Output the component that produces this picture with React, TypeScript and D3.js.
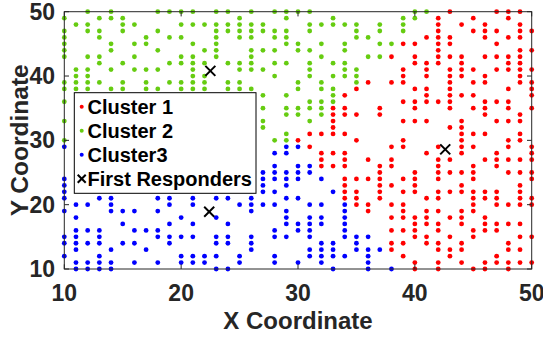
import React from "react";
import * as d3 from "d3";

// Each entry: [y, list of x values] on the integer grid
const cluster1Rows: [number, number[]][] = [
  [50, [43, 47, 48, 49]],
  [49, [42, 45, 48]],
  [48, [42, 44, 46, 49]],
  [47, [42, 45, 46, 47, 49, 50]],
  [46, [41, 42, 43, 46, 48, 49]],
  [45, [39, 40, 42, 43, 47]],
  [44, [42, 49, 50]],
  [43, [38, 40, 42, 43, 44, 46, 47, 48, 49]],
  [42, [40, 41, 42, 44, 48, 49]],
  [41, [39, 41, 43, 44, 45, 47, 48, 49, 50]],
  [40, [39, 41, 43, 44, 46, 49]],
  [39, [36, 38, 39, 43, 45, 46, 49, 50]],
  [38, [35, 40, 41, 43, 48, 50]],
  [37, [34, 41, 43, 44, 45, 50]],
  [36, [39, 40, 41, 42, 43, 46, 47, 48]],
  [35, [33, 34, 37, 40, 43, 45, 46, 48, 50]],
  [34, [33, 34, 35, 37, 46, 49]],
  [33, [33, 39, 40, 41, 44, 47, 48, 49]],
  [32, [33, 43, 44]],
  [31, [31, 32, 33, 34, 44, 45, 46, 49]],
  [30, [30, 35, 39, 44, 48, 49]],
  [29, [31, 38, 39, 42, 44, 45, 48, 50]],
  [28, [32, 33, 34, 41, 44, 47, 50]],
  [27, [32, 34, 36, 38, 42, 43, 46, 47, 48, 49, 50]],
  [26, [32, 33, 34, 37, 38, 42, 45, 47]],
  [25, [37, 40, 42, 43, 44, 45, 48, 49, 50]],
  [24, [34, 35, 36, 37, 39, 40, 42, 45, 50]],
  [23, [34, 37, 38, 40, 44, 49]],
  [22, [34, 35, 37, 39, 40, 42, 43, 44, 45, 46, 47, 49]],
  [21, [34, 35, 37, 41, 42, 45, 46, 47, 49, 50]],
  [20, [35, 36, 38, 39, 45, 47, 48, 49, 50]],
  [19, [36, 39, 41, 42, 44, 45]],
  [18, [38, 39, 40, 41, 43, 44, 46]],
  [17, [40, 41, 42, 44, 46, 47, 48, 49]],
  [16, [38, 39, 40, 42, 45, 46, 47]],
  [15, [40, 41, 43, 45, 49, 50]],
  [14, [38, 39, 41, 42, 44, 48]],
  [13, [38, 42, 43, 44, 48, 49]],
  [12, [39, 43, 47]],
  [11, [40, 42, 44, 46, 47, 48, 49, 50]],
  [10, [40, 42, 45, 46, 48]],
];

const cluster2Rows: [number, number[]][] = [
  [50, [12, 14, 18, 19, 20, 21, 23, 24, 26, 28, 29, 30, 31, 40, 41]],
  [49, [10, 13, 14, 15, 25, 29, 33, 39, 40]],
  [48, [11, 12, 15, 16, 20, 21, 22, 23, 24, 25, 26, 27, 31, 32, 33, 34, 35, 37, 39]],
  [47, [10, 12, 13, 15, 18, 23, 24, 25, 26, 27, 28, 29, 31, 35, 37, 39]],
  [46, [10, 13, 17, 19, 20, 23, 25, 26, 28, 29, 35, 36]],
  [45, [10, 14, 16, 17, 21, 23, 29, 30, 32, 34, 37, 38]],
  [44, [10, 14, 18, 22, 23, 26, 27, 28, 30, 31, 34]],
  [43, [10, 12, 13, 16, 20, 21, 23, 26, 32, 36, 37]],
  [42, [13, 15, 19, 20, 21, 22, 24, 25, 26, 28, 29, 31, 33, 34]],
  [41, [11, 12, 14, 16, 17, 18, 21, 25, 26, 27, 31, 34, 35]],
  [40, [11, 12, 21, 22, 28, 31, 33, 34, 35]],
  [39, [10, 11, 12, 13, 15, 17, 19, 20, 21, 22, 24, 25, 30, 32, 35]],
  [38, [10, 11, 12, 14, 15, 17, 18, 20, 21, 22, 24, 25, 26, 30, 32, 33]],
  [37, [27, 29, 33]],
  [36, [10, 31, 32, 33]],
  [35, [27, 29, 30, 31, 32]],
  [34, [29, 30, 32]],
  [33, [10, 27, 31]],
  [32, [27]],
  [31, [29]],
  [30, [10, 28, 29]],
];

const cluster3Rows: [number, number[]][] = [
  [29, [10, 29, 30]],
  [28, [28, 29]],
  [26, [28, 30, 31]],
  [25, [27, 28, 29, 30, 31]],
  [24, [10, 27, 28, 29, 30, 32]],
  [23, [10, 27, 29]],
  [22, [10, 27, 28, 33]],
  [21, [10, 13, 14, 18, 19, 21, 23, 24, 26, 29, 30]],
  [20, [11, 12, 14, 19, 21, 25, 26, 27, 28, 31, 32, 34]],
  [19, [10, 14, 15, 16, 18, 26, 29, 34]],
  [18, [11, 20, 23, 29, 31, 32, 34]],
  [17, [15, 19, 21, 24, 29, 30, 31, 32, 34]],
  [16, [11, 12, 13, 16, 17, 18, 28, 30, 31, 34]],
  [15, [10, 11, 13, 18, 19, 20, 21, 23, 24, 26, 28, 29, 31, 34, 35, 36]],
  [14, [10, 11, 12, 13, 15, 16, 19, 23, 24, 26, 32, 33, 35]],
  [13, [11, 14, 17, 26, 31, 32, 33, 35, 36, 37]],
  [12, [10, 13, 20, 21, 22, 23, 25, 28, 31, 32, 33, 34, 36]],
  [11, [11, 12, 13, 14, 16, 18, 20, 21, 22, 25, 28, 30, 32, 36]],
  [10, [11, 12, 13, 14, 23, 24, 33, 36, 38]],
];

const responderX = [22.5, 42.6, 22.4];
const responderY = [40.8, 28.6, 18.9];

const xTicks = [10, 20, 30, 40, 50];
const yTicks = [10, 20, 30, 40, 50];
const legendLabels = ["Cluster 1", "Cluster 2", "Cluster3", "First Responders"];
const clusterColors = ["#ff0000", "#66cc11", "#0000ff"];

const FONT = "'Liberation Sans', Arial, Helvetica, sans-serif";

function flatten(rows: [number, number[]][]) {
  const pts: { x: number; y: number }[] = [];
  rows.forEach(([y, xs]) => xs.forEach((x) => pts.push({ x, y })));
  return pts;
}

export default function App() {
  const W = 543;
  const H = 337;
  const left = 64.3;
  const right = 531.7;
  const top = 11.7;
  const bottom = 269;
  const x = d3.scaleLinear().domain([10, 50]).range([left, right]);
  const y = d3.scaleLinear().domain([10, 50]).range([bottom, top]);
  const clusters = [cluster1Rows, cluster2Rows, cluster3Rows].map(flatten);
  const axisColor = "#262626";
  const tickLen = 4.7;
  const responders = responderX.map((rx, i) => ({ x: rx, y: responderY[i] }));

  const cross = (cx: number, cy: number, s: number, key: string) => (
    <g key={key} stroke="#000" strokeWidth={2}>
      <line x1={cx - s} y1={cy - s} x2={cx + s} y2={cy + s} />
      <line x1={cx - s} y1={cy + s} x2={cx + s} y2={cy - s} />
    </g>
  );

  const lg = { x: 74.3, y: 92.7, w: 181.7, h: 100.6 };
  const lgBaselines = [114.3, 138.3, 162.3, 186.3];

  return (
    <svg
      width={W}
      height={H}
      style={{ position: "absolute", left: 0, top: 0, background: "#fff" }}
      fontFamily={FONT}
    >
      <rect x={0} y={0} width={W} height={H} fill="#fff" />
      {/* points */}
      {clusters.map((pts, ci) => (
        <g key={ci} fill={clusterColors[ci]}>
          {pts.map((p, i) => (
            <circle key={i} cx={x(p.x)} cy={y(p.y)} r={2.4} />
          ))}
        </g>
      ))}
      {responders.map((r, i) => cross(x(r.x), y(r.y), 5, "fr" + i))}

      {/* axes box */}
      <rect
        x={left}
        y={top}
        width={right - left}
        height={bottom - top}
        fill="none"
        stroke={axisColor}
        strokeWidth={1}
      />
      {xTicks.map((t) => (
        <g key={"xt" + t} stroke={axisColor} strokeWidth={1}>
          <line x1={x(t)} x2={x(t)} y1={bottom} y2={bottom - tickLen} />
          <line x1={x(t)} x2={x(t)} y1={top} y2={top + tickLen} />
        </g>
      ))}
      {yTicks.map((t) => (
        <g key={"yt" + t} stroke={axisColor} strokeWidth={1}>
          <line x1={left} x2={left + tickLen} y1={y(t)} y2={y(t)} />
          <line x1={right} x2={right - tickLen} y1={y(t)} y2={y(t)} />
        </g>
      ))}
      {xTicks.map((t) => (
        <text
          key={"xl" + t}
          x={x(t)}
          y={300.5}
          textAnchor="middle"
          fontSize={23}
          fontWeight="bold"
          fill={axisColor}
        >
          {t}
        </text>
      ))}
      {yTicks.map((t) => (
        <text
          key={"yl" + t}
          x={55}
          y={y(t) + 8}
          textAnchor="end"
          fontSize={23}
          fontWeight="bold"
          fill={axisColor}
        >
          {t}
        </text>
      ))}
      <text
        x={(left + right) / 2}
        y={329}
        textAnchor="middle"
        fontSize={24}
        fontWeight="bold"
        fill={axisColor}
      >
        X Coordinate
      </text>
      <text
        transform={`translate(27.5, ${(top + bottom) / 2}) rotate(-90)`}
        textAnchor="middle"
        fontSize={24.5}
        fontWeight="bold"
        fill={axisColor}
      >
        Y Coordinate
      </text>

      {/* legend */}
      <rect x={lg.x} y={lg.y} width={lg.w} height={lg.h} fill="#fff" stroke="#000" strokeWidth={1} />
      {legendLabels.map((lab, i) => (
        <g key={"lg" + i}>
          {i < 3 ? (
            <circle cx={81.7} cy={lgBaselines[i] - 7.5} r={2} fill={clusterColors[i]} />
          ) : (
            cross(81.7, lgBaselines[i] - 7.5, 4, "lgx")
          )}
          <text x={87.5} y={lgBaselines[i]} fontSize={20} fontWeight="bold" fill="#000">
            {lab}
          </text>
        </g>
      ))}
    </svg>
  );
}
